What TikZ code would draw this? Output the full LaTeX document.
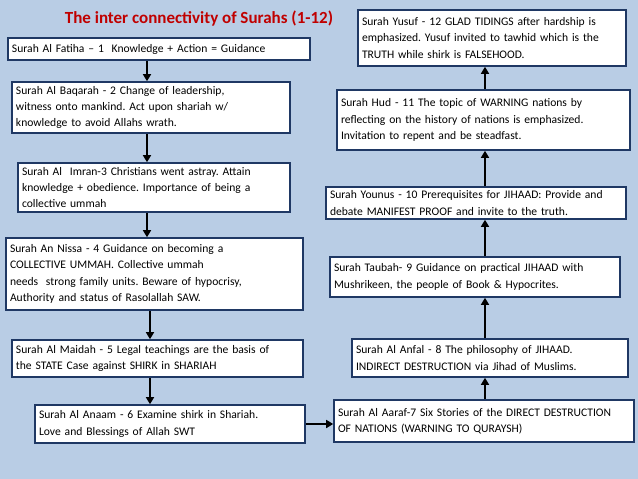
\documentclass[tikz,border=0pt]{standalone}
\usepackage{fontspec}
\setmainfont{Carlito}
\usetikzlibrary{arrows.meta}
\definecolor{bg}{HTML}{B9CDE5}
\definecolor{bd}{HTML}{1F3864}
\definecolor{ttl}{HTML}{C00000}
\frenchspacing
\begin{document}
\begin{tikzpicture}[x=1pt,y=-1pt,
  box/.style={draw=bd,line width=1.6pt,fill=white,inner sep=3pt,align=left,font=\fontsize{11.6}{16.3}\selectfont,anchor=center},
  arr/.style={line width=1.6pt,-{Triangle[length=7pt,width=8pt]}}]
\fill[bg] (0,0) rectangle (638,479);
\useasboundingbox (0,0) rectangle (638,479);
\node[font=\bfseries\fontsize{17}{18}\selectfont,text=ttl] (t) at (199,19) {The inter connectivity of Surahs (1-12)};
\newcommand{\bx}[6]{\node[box,minimum width=#4-#2,minimum height=#5-#3,text width=#4-#2-8] (#1) at ({(#2+#4)/2},{(#3+#5)/2}) {#6};}
\bx{a}{8}{38}{310}{60}{Surah Al Fatiha – 1\ \ Knowledge + Action = Guidance}
\bx{b}{12}{82}{290}{133}{Surah Al Baqarah - 2 Change of leadership,\\ witness onto mankind. Act upon shariah w/\\ knowledge to avoid Allahs wrath.}
\bx{c}{18}{163}{290}{212}{Surah Al\ \ Imran-3 Christians went astray. Attain\\ knowledge + obedience. Importance of being a\\ collective ummah}
\bx{d}{6}{238}{303}{310}{Surah An Nissa - 4 Guidance on becoming a\\ COLLECTIVE UMMAH. Collective ummah\\ needs\ \ strong family units. Beware of hypocrisy,\\ Authority and status of Rasolallah SAW.}
\bx{e}{12}{340}{303}{377}{Surah Al Maidah - 5 Legal teachings are the basis of\\ the STATE Case against SHIRK in SHARIAH}
\bx{f}{35}{405}{305}{443}{Surah Al Anaam - 6 Examine shirk in Shariah.\\ Love and Blessings of Allah SWT}
\bx{g}{334}{400}{634}{442}{Surah Al Aaraf-7 Six Stories of the DIRECT DESTRUCTION\\ OF NATIONS (WARNING TO QURAYSH)}
\bx{h}{352}{339}{628}{377}{Surah Al Anfal - 8 The philosophy of JIHAAD.\\ INDIRECT DESTRUCTION via Jihad of Muslims.}
\bx{i}{330}{257}{620}{297}{Surah Taubah- 9 Guidance on practical JIHAAD with\\ Mushrikeen, the people of Book \& Hypocrites.}
\bx{j}{326}{187}{626}{219}{Surah Younus - 10 Prerequisites for JIHAAD: Provide and\\ debate MANIFEST PROOF and invite to the truth.}
\bx{k}{337}{90}{630}{150}{Surah Hud - 11 The topic of WARNING nations by\\ reflecting on the history of nations is emphasized.\\ Invitation to repent and be steadfast.}
\bx{l}{358}{10}{626}{66}{Surah Yusuf - 12 GLAD TIDINGS after hardship is\\ emphasized. Yusuf invited to tawhid which is the\\ TRUTH while shirk is FALSEHOOD.}
\draw[arr] (a.south -| 147,0) -- (b.north -| 147,0);
\draw[arr] (b.south -| 147,0) -- (c.north -| 147,0);
\draw[arr] (c.south -| 147,0) -- (d.north -| 147,0);
\draw[arr] (d.south -| 150,0) -- (e.north -| 150,0);
\draw[arr] (e.south -| 150,0) -- (f.north -| 150,0);
\draw[arr] (f.east |- 0,424) -- (g.west |- 0,424);
\draw[arr] (g.north -| 485,0) -- (h.south -| 485,0);
\draw[arr] (h.north -| 485,0) -- (i.south -| 485,0);
\draw[arr] (i.north -| 485,0) -- (j.south -| 485,0);
\draw[arr] (j.north -| 485,0) -- (k.south -| 485,0);
\draw[arr] (k.north -| 485,0) -- (l.south -| 485,0);
\end{tikzpicture}
\end{document}
